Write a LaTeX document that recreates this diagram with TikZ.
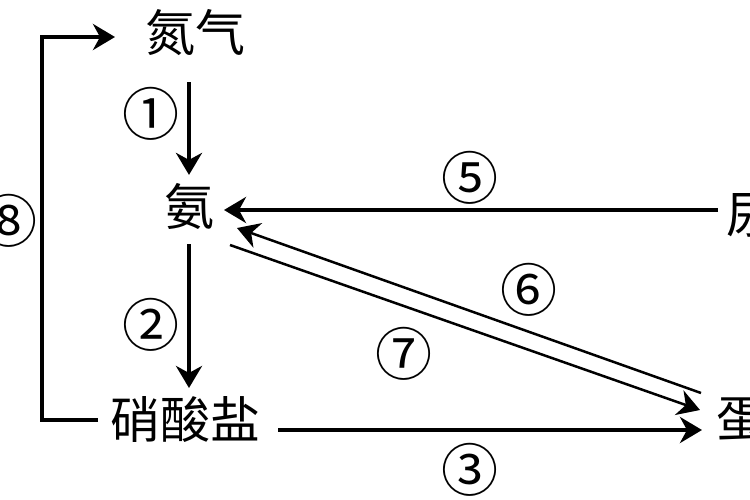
\documentclass[tikz,border=0pt]{standalone}
\usepackage{fontspec}
\newfontfamily\cjk{Noto Sans CJK SC}
\usetikzlibrary{arrows.meta}

\begin{document}
\begin{tikzpicture}[x=1pt,y=-1pt,>={Stealth[length=22pt,width=26pt,inset=7pt]},
                    line width=4pt,every node/.style={inner sep=0pt},
                    word/.style={font=\cjk\fontsize{50}{50}\selectfont},
                    num/.style={font=\cjk\fontsize{57}{57}\selectfont,line width=0pt}]
\useasboundingbox (0,0) rectangle (750,500);
\clip (0,0) rectangle (750,500);
\node[word] (n2) at (195,33) {氮气};
\node[word] (nh3) at (189,206) {氨};
\node[word] (nitr) at (185,420) {硝酸盐};
\node[word,anchor=west] (urea) at (724,215) {尿};
\node[word,anchor=west] (prot) at (714,420) {蛋};
\coordinate (c8) at (42,420);
\path[->] (n2.south -| nh3.north) edge [shorten <=24pt,shorten >=6pt]
              node[num,pos=.45,xshift=-38pt] {①} (nh3.north)
      (nh3.south) edge [shorten <=13pt,shorten >=7pt]
              node[num,pos=.57,xshift=-38pt] {②} (nh3.south |- nitr.north)
      ([yshift=-10pt]nitr.east) edge [shorten <=16pt,shorten >=12pt]
              node[num,pos=.46,yshift=-40pt] {③} ([yshift=-10pt]prot.west)
      ([yshift=5pt]urea.west) edge [shorten <=6pt,shorten >=8pt]
              node[num,pos=.5,yshift=32pt] {⑤} ([yshift=-4pt]nh3.east)
      ([xshift=-13pt,yshift=27pt]prot.west) edge [line width=2.5pt,shorten >=0pt]
              node[num,pos=.37,yshift=42pt] {⑥} ([xshift=21pt,yshift=-22pt]nh3.east)
      ([xshift=14pt,yshift=-39pt]nh3.east) edge [line width=2.5pt,shorten >=0pt]
              node[num,pos=.37,yshift=-48pt] {⑦} ([xshift=-14pt,yshift=10pt]prot.west);
\draw[->,shorten <=10pt,shorten >=28pt] (nitr.west) -- (c8)
      |- node[num,pos=.26,xshift=-33pt] {⑧} ([yshift=-4pt]n2.west);
\end{tikzpicture}
\end{document}
